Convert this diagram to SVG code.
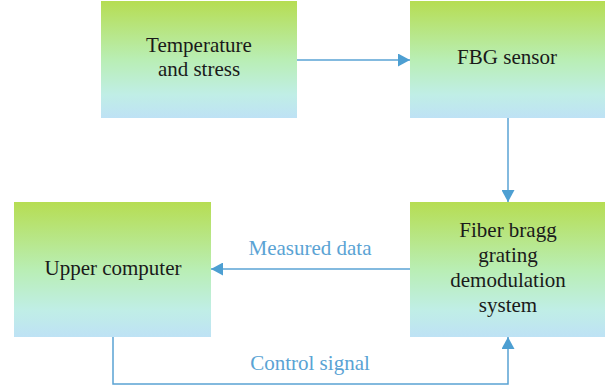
<svg xmlns="http://www.w3.org/2000/svg" width="611" height="390" viewBox="0 0 611 390">
<defs>
<linearGradient id="g" x1="0" y1="0" x2="0" y2="1">
<stop offset="0" stop-color="#b6dd52"/>
<stop offset="0.5" stop-color="#b9eeb4"/>
<stop offset="0.8" stop-color="#c0eee6"/>
<stop offset="1" stop-color="#bee2f5"/>
</linearGradient>
<marker id="ah" markerWidth="12" markerHeight="13" refX="12" refY="6.5" orient="auto" markerUnits="userSpaceOnUse">
<path d="M0,0 L12,6.5 L0,13 Z" fill="#4d9fd2"/>
</marker>
<style>
.box{fill:url(#g);}
.t{font-family:"Liberation Serif","Times New Roman",serif;font-size:21px;fill:#1a1a1a;text-anchor:middle;}
.l{font-family:"Liberation Serif","Times New Roman",serif;font-size:21px;fill:#5aa3d4;text-anchor:middle;}
.c{fill:none;stroke:#5aa3d4;stroke-width:1.5;}
</style>
</defs>
<g id="n1"><rect class="box" x="101" y="1" width="196" height="117"/>
<text class="t" x="199" y="52">Temperature</text><text class="t" x="199" y="76">and stress</text></g>
<g id="n2"><rect class="box" x="410" y="1" width="195" height="117"/>
<text class="t" x="507" y="64">FBG sensor</text></g>
<g id="n3"><rect class="box" x="14" y="202" width="197" height="135"/>
<text class="t" x="113" y="275">Upper computer</text></g>
<g id="n4"><rect class="box" x="410" y="202" width="195" height="135"/>
<text class="t" x="508" y="237">Fiber bragg</text><text class="t" x="508" y="262">grating</text><text class="t" x="508" y="287">demodulation</text><text class="t" x="508" y="312">system</text></g>
<g id="connectors">
<line class="c" x1="297" y1="60" x2="410" y2="60" marker-end="url(#ah)"/>
<line class="c" x1="508" y1="118" x2="508" y2="202" marker-end="url(#ah)"/>
<line class="c" x1="410" y1="269" x2="211" y2="269" marker-end="url(#ah)"/>
<polyline class="c" points="113,337 113,384 508,384 508,337" marker-end="url(#ah)"/>
<text class="l" x="310" y="255">Measured data</text>
<text class="l" x="310" y="370">Control signal</text>
</g>
</svg>
